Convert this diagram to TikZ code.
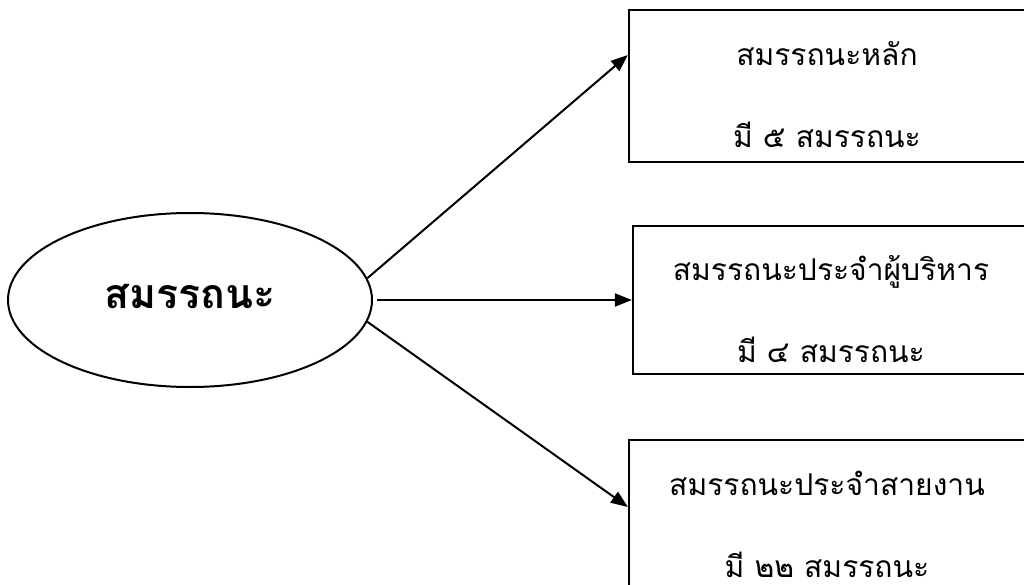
\documentclass[tikz,border=0pt]{standalone}
\usepackage{fontspec}
\newfontfamily\thaifont[Script=Thai]{Loma}
\usepackage{tikz}
\usetikzlibrary{arrows.meta}
\usetikzlibrary{shapes.geometric}
\tikzstyle{arrow} = [line width=2pt,-{Triangle[length=17pt,width=13pt]}]
\tikzstyle{compbox} = [rectangle, draw, line width=2.2pt, minimum width=396pt, minimum height=150pt, align=center, text height=124pt, text depth=0pt, font=\thaifont\fontsize{30}{82}\selectfont]

\begin{document}
\begin{tikzpicture}[x=1pt, y=-1pt]
        \useasboundingbox (0,0) rectangle (1024,585);
        \node (comp) [ellipse, draw, line width=2pt, minimum width=364pt, minimum height=174pt, inner sep=0pt, text height=28pt, text depth=12pt, font=\thaifont\bfseries\fontsize{41}{45}\selectfont] at (190,300) {สมรรถนะ};
        \node (core) [compbox, minimum height=152pt] at (827,86) {สมรรถนะหลัก\\มี ๕ สมรรถนะ};
        \node (exec) [compbox, minimum height=148pt] at (831,300) {สมรรถนะประจำผู้บริหาร\\มี ๔ สมรรถนะ};
        \node (func) [compbox] at (827,515) {สมรรถนะประจำสายงาน\\มี ๒๒ สมรรถนะ};
        
        \draw [arrow] (comp.7) -- ([yshift=31pt]core.west);
        \draw [arrow] ([xshift=4pt]comp.east) -- (exec.west);
        \draw [arrow] (comp.-7) -- ([yshift=8pt]func.west);
        
    \end{tikzpicture}
\end{document}
